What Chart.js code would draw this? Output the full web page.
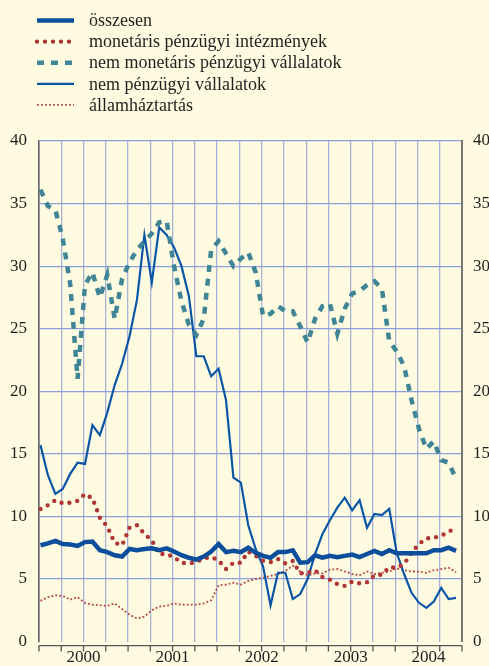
<!DOCTYPE html>
<html>
<head>
<meta charset="utf-8">
<script src="https://cdn.jsdelivr.net/npm/chart.js@4/dist/chart.umd.min.js"></script>
<style>
  html, body { margin: 0; padding: 0; background: #fefbe0; overflow: hidden; }
  #wrap { width: 503px; height: 674px; margin-left: -2px; }
</style>
</head>
<body>
<div id="wrap"><canvas id="c"></canvas></div>
<script>
// monthly data, 2000 Jan - 2004 Sep (percent)
const years = ['2000', '2001', '2002', '2003', '2004'];
const yearCentres = [6, 18, 30, 42, 52.5];

const osszesen = [7.7, 7.85, 8.05, 7.8, 7.75, 7.65, 7.95, 8.0, 7.3, 7.15,
  6.9, 6.8, 7.4, 7.3, 7.4, 7.45, 7.3, 7.45, 7.2, 6.9,
  6.7, 6.55, 6.8, 7.2, 7.8, 7.15, 7.25, 7.15, 7.5, 7.1,
  6.85, 6.7, 7.15, 7.15, 7.3, 6.3, 6.35, 6.9, 6.7, 6.85,
  6.75, 6.85, 6.95, 6.75, 7.0, 7.25, 7.0, 7.3, 7.05, 7.05,
  7.05, 7.05, 7.05, 7.3, 7.3, 7.5, 7.25];
const monetaris = [10.6, 10.9, 11.3, 11.05, 11.1, 11.25, 11.8, 11.45, 9.9, 9.2,
  7.9, 7.7, 9.1, 9.3, 8.6, 8.1, 7.0, 7.0, 6.75, 6.3,
  6.25, 6.35, 6.65, 6.75, 6.5, 5.8, 6.3, 6.3, 7.2, 6.85,
  6.45, 6.35, 6.6, 6.25, 6.45, 5.45, 5.5, 5.7, 5.15, 4.95,
  4.6, 4.45, 4.8, 4.65, 4.75, 5.3, 5.35, 5.95, 5.9, 6.2,
  7.1, 7.8, 8.25, 8.3, 8.45, 8.8, 9.05];
const nemMonetaris = [36.1, 34.8, 34.5, 32.2, 28.6, 21.0, 28.5, 29.5, 27.5, 29.3,
  25.8, 29.0, 30.3, 31.3, 32.0, 32.6, 33.5, 33.6, 30.0, 27.2,
  25.3, 24.5, 25.8, 31.3, 32.0, 31.0, 30.0, 30.6, 31.1, 29.5,
  26.0, 26.2, 26.8, 26.4, 26.4, 25.2, 23.9, 25.8, 26.8, 27.0,
  24.6, 26.6, 27.8, 28.0, 28.5, 28.8, 28.2, 24.0, 23.2, 22.0,
  19.3, 17.0, 15.4, 16.0, 14.5, 14.3, 13.0];
const nemPenzugyi = [15.7, 13.3, 11.8, 12.2, 13.4, 14.3, 14.2, 17.3, 16.5, 18.3,
  20.5, 22.2, 24.4, 27.3, 32.5, 28.7, 33.1, 32.5, 31.5, 30.0,
  27.6, 22.8, 22.8, 21.2, 21.8, 19.3, 13.1, 12.7, 9.3, 7.4,
  6.0, 2.9, 5.5, 5.5, 3.4, 3.8, 5.0, 7.0, 8.6, 9.7,
  10.7, 11.5, 10.5, 11.3, 9.1, 10.2, 10.1, 10.6, 7.1, 5.4,
  3.9, 3.1, 2.7, 3.2, 4.3, 3.4, 3.5];
const allamhaztartas = [3.25, 3.55, 3.7, 3.65, 3.35, 3.55, 3.1, 2.95, 2.9, 2.85,
  3.05, 2.6, 2.15, 1.85, 2.0, 2.5, 2.8, 2.85, 3.05, 2.95,
  2.95, 2.95, 3.05, 3.3, 4.5, 4.55, 4.7, 4.55, 4.85, 5.0,
  5.1, 5.25, 5.4, 5.65, 6.05, 5.6, 5.3, 5.45, 5.45, 5.75,
  5.8, 5.6, 5.4, 5.3, 5.6, 5.4, 5.5, 5.6, 5.85, 5.7,
  5.6, 5.6, 5.5, 5.7, 5.8, 5.9, 5.55];

const FONT = '"Liberation Serif", "DejaVu Serif", serif';
const toXY = arr => arr.map((v, i) => ({x: i + 0.2, y: v}));

// background colour
const bgPlugin = {
  id: 'bg',
  beforeDraw(chart) {
    const ctx = chart.ctx;
    ctx.save();
    ctx.fillStyle = '#fefbe0';
    ctx.fillRect(0, 0, chart.width, chart.height);
    ctx.restore();
  }
};

// legend: one row per series, top left
const legendPlugin = {
  id: 'rowLegend',
  afterDraw(chart) {
    const ctx = chart.ctx;
    chart.data.datasets.forEach((ds, k) => {
      const y = 20.5 + k * 21.1;
      ctx.save();
      ctx.strokeStyle = ds.borderColor;
      ctx.lineWidth = ds.borderWidth;
      ctx.lineCap = ds.borderCapStyle || 'butt';
      ctx.setLineDash(ds.borderDash || []);
      ctx.beginPath();
      ctx.moveTo(39, y);
      ctx.lineTo(76, y);
      ctx.stroke();
      ctx.setLineDash([]);
      ctx.fillStyle = '#231f20';
      ctx.font = '18px ' + FONT;
      ctx.textBaseline = 'middle';
      ctx.fillText(ds.label, 91, y + 1);
      ctx.restore();
    });
  }
};

// bottom axis line sitting slightly below the plot, with quarter ticks
const axisPlugin = {
  id: 'bottomAxis',
  afterDraw(chart) {
    const ctx = chart.ctx, xs = chart.scales.x, a = chart.chartArea;
    const y = a.bottom + 4;
    ctx.save();
    ctx.strokeStyle = '#555';
    ctx.lineWidth = 1.3;
    ctx.beginPath();
    ctx.moveTo(a.left, y);
    ctx.lineTo(a.right, y);
    for (let m = 0; m <= 57; m += 3) {
      const px = xs.getPixelForValue(m);
      ctx.moveTo(px, y);
      ctx.lineTo(px, y + 6);
    }
    ctx.stroke();
    ctx.restore();
  }
};

new Chart(document.getElementById('c'), {
  type: 'line',
  data: {
    datasets: [
      {label: 'összesen', data: toXY(osszesen), borderColor: '#0b4f9c', borderWidth: 4.5},
      {label: 'monetáris pénzügyi intézmények', data: toXY(monetaris), borderColor: '#b03535',
        borderWidth: 4.4, borderDash: [0, 8], borderCapStyle: 'round'},
      {label: 'nem monetáris pénzügyi vállalatok', data: toXY(nemMonetaris), borderColor: '#3f8596',
        borderWidth: 4.5, borderDash: [7, 7]},
      {label: 'nem pénzügyi vállalatok', data: toXY(nemPenzugyi), borderColor: '#0b55a6', borderWidth: 2.2},
      {label: 'államháztartás', data: toXY(allamhaztartas), borderColor: '#b84040',
        borderWidth: 1.8, borderDash: [1.8, 2.2]}
    ]
  },
  options: {
    responsive: true,
    maintainAspectRatio: false,
    animation: false,
    layout: {padding: {top: 141, left: 0, right: 0, bottom: 0}},
    elements: {point: {radius: 0}, line: {tension: 0}},
    plugins: {legend: {display: false}, tooltip: {enabled: false}},
    scales: {
      x: {
        type: 'linear', min: 0, max: 57,
        afterBuildTicks: s => {
          const t = [];
          for (let m = 0; m <= 57; m += 1.5) t.push({value: m});
          s.ticks = t;
        },
        grid: {
          drawTicks: false,
          color: c => (c.tick && c.tick.value % 3 === 0) ? '#a9b3da' : 'rgba(0,0,0,0)',
          lineWidth: 1.3
        },
        border: {display: false},
        ticks: {
          autoSkip: false, maxRotation: 0, padding: 6,
          color: '#231f20', font: {family: FONT, size: 17},
          callback: v => {
            const k = yearCentres.indexOf(v);
            return k >= 0 ? years[k] : '';
          }
        }
      },
      y: {
        position: 'left', min: 0, max: 40,
        ticks: {stepSize: 5, padding: 12, color: '#231f20', font: {family: FONT, size: 17}},
        grid: {drawTicks: false, color: c => c.tick.value === 0 ? 'rgba(0,0,0,0)' : '#8c9fdd', lineWidth: 1.2},
        border: {display: true, color: '#666', width: 1.6}
      },
      y2: {
        position: 'right', min: 0, max: 40,
        ticks: {stepSize: 5, padding: 11, color: '#231f20', font: {family: FONT, size: 17}},
        grid: {display: false, drawTicks: false},
        border: {display: true, color: '#777', width: 2}
      }
    }
  },
  plugins: [bgPlugin, legendPlugin, axisPlugin]
});
</script>
</body>
</html>
